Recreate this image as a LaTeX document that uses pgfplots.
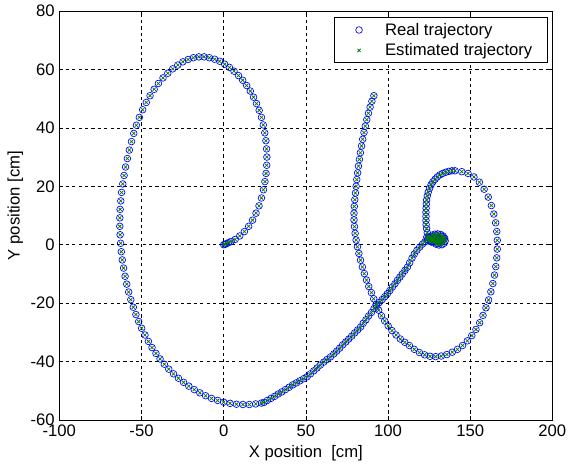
\documentclass[border=0pt]{standalone}
\usepackage{pgfplots}
\usepackage{pgfplotstable}
\pgfplotsset{compat=1.18}
\usepackage{fontspec}
\setmainfont{Liberation Sans}
\definecolor{mblue}{rgb}{0,0,1}
\definecolor{mgreen}{rgb}{0,0.5,0}
\pgfplotsset{mylegimg/.style={legend image code/.code={\path[draw=none,fill=none] (0pt,-3pt) rectangle (27pt,3pt); \draw[mark repeat=2,mark phase=2] plot coordinates {(0pt,0pt)(9.5pt,0pt)(27pt,0pt)};}}}
\pgfplotstableread{
x y
0 0
0.8 0.1
1.8 0.4
3 0.7
4.5 1.1
7 1.8
9.8 3
12.6 4.5
15.2 6.3
17.6 8.4
19.7 10.8
21.5 13.3
23 16
24.2 18.8
25.1 21.6
25.8 24.4
26.2 27.2
26.3 30
26.1 32.8
25.7 35.6
25 38.3
24.1 41
23 43.6
21.6 46
20 48.3
18.2 50.5
16.2 52.6
14 54.5
11.6 56.3
9 57.9
6.3 59.4
3.5 60.7
0.6 61.8
-2.4 62.8
-5.5 63.5
-8.7 64
-11.9 64.3
-15.1 64.3
-18.4 64
-21.6 63.4
-24.8 62.6
-27.9 61.5
-31 60.2
-34 58.7
-36.9 57.1
-39.7 55.2
-42.3 53.2
-44.8 51
-47.1 48.7
-49.3 46.2
-51.3 43.6
-53.1 40.9
-54.7 38.1
-56.1 35.3
-57.4 32.4
-58.6 29.5
-59.7 26.6
-60.6 23.7
-61.4 20.8
-62.1 17.9
-62.6 15
-63 12.1
-63.2 9.2
-63.2 6.3
-63 3.4
-62.7 0.5
-62.3 -2.4
-61.7 -5.2
-60.9 -8
-60 -10.8
-59 -13.5
-57.8 -16.2
-56.5 -18.8
-55 -21.4
-53.4 -23.9
-51.7 -26.3
-49.9 -28.6
-47.9 -30.9
-45.8 -33.1
-43.6 -35.2
-41.2 -37.2
-38.7 -39.1
-36.1 -40.9
-33.4 -42.6
-30.5 -44.2
-27.5 -45.7
-24.4 -47.1
-21.2 -48.4
-17.9 -49.6
-14.5 -50.7
-11 -51.7
-7.4 -52.6
-3.7 -53.3
0 -53.9
3.9 -54.3
7.8 -54.6
11.7 -54.7
15.6 -54.7
19.5 -54.5
23 -54.2
24.5 -54
26.6 -53.3
28.8 -52.6
31 -51.9
33.2 -51.1
35.4 -50.4
37.6 -49.6
39.8 -48.8
42 -48
44.2 -47.3
46.4 -46.6
48.6 -45.9
50.8 -45.2
52.8 -44.2
54.8 -43.2
56.8 -42.2
58.8 -41.2
60.9 -40.2
62.9 -39.3
65 -38.4
67 -37.4
68.8 -36.4
70.6 -35.4
72.4 -34.3
74.3 -33.3
76.1 -32.3
77.9 -31.3
79.7 -30.2
81.5 -29.2
83.3 -28.2
84.9 -26.9
86.6 -25.7
88.2 -24.4
89.9 -23.2
91.5 -21.9
93.1 -20.9
94.7 -19.8
96.4 -18.8
98 -17.8
99.6 -16.8
101.1 -15.7
102.7 -14.5
104.2 -13.4
105.7 -12.2
107.2 -11.1
108.7 -10
110.3 -8.8
111.8 -7.7
113.2 -6.2
114.6 -4.6
116 -3.2
117.6 -1.9
119.3 -0.8
121 0.2
122.5 1
124 1.8
125.5 2.6
127 3.3
128.6 3.6
130.3 3.7
132 3.5
133.5 3
134.5 2.2
134.8 1.3
134.2 0.5
132.8 0
131 -0.1
129.2 0.2
127.6 0.9
126.3 1.7
125.4 2.5
127 2.2
128.8 1.5
130.6 1.2
132.4 1.6
133.6 2.3
132.5 2.9
130.5 2.6
128.5 2.4
126.5 2.2
125.8 1.2
127.2 1.8
128 2.9
129.5 3
130 1.9
131.5 2.1
131.8 0.9
133 1.2
133.2 2
129 1
130.2 0.4
127.4 1.4
126.4 0.9
124.8 1.4
123.6 2.6
124.6 2.7
123.9 4.1
123.5 5.5
123.2 6.9
123.1 8.3
123.1 9.7
123.1 11.1
123.2 12.5
123.3 13.9
123.5 15.3
123.9 16.7
124.5 18
125.3 19.3
126.2 20.5
127.3 21.5
128.6 22.4
130 23.2
131.6 23.9
133.3 24.4
135.1 24.8
137 25.1
138.9 25.3
140.8 25.3
144.9 25
148.7 24.4
152.3 23.2
155.6 21.4
158.5 19
161 16.3
162.9 13.4
164.4 10.5
165.5 7.5
166.2 4.5
166.5 1.5
166.5 -1.5
166.2 -4.5
165.6 -7.5
164.8 -10.4
163.8 -13.3
162.6 -16.1
161.2 -18.9
159.6 -21.6
157.8 -24.2
155.8 -26.7
153.5 -29
151 -31.1
148.3 -32.9
145.4 -34.5
142.3 -35.8
139.1 -36.8
135.8 -37.6
132.4 -38.1
129 -38.3
125.6 -38.2
122.3 -37.7
119.1 -36.9
116 -35.8
113 -34.5
110.2 -33.4
107.5 -32.3
104.9 -30.9
102.4 -29.4
100.1 -27.8
98 -26.1
96 -24.3
94.3 -22.4
92.7 -20.5
91.3 -18.5
89.9 -16.4
88.3 -14.3
86.9 -12.1
85.6 -9.9
84.4 -7.6
83.3 -5.3
82.3 -3
81.4 -0.7
80.6 1.6
80 3.9
79.6 6.2
79.3 8.5
79.3 10.8
79.5 13.1
79.8 15.4
80.2 17.7
80.6 20
81 22.3
81.5 24.6
82 26.9
82.6 29.2
83.2 31.5
83.9 33.8
84.6 36.1
85.4 38.4
86.2 40.6
87.1 42.8
88.1 45
89.1 47.1
90.2 49.1
91.4 51
}\traj
\begin{document}
\begin{tikzpicture}
\begin{axis}[
  scale only axis,
  width=369.75pt, height=306.75pt,
  at={(0,0)}, anchor=south west,
  xmin=-100, xmax=200, ymin=-60, ymax=80,
  xtick={-100,-50,...,200}, ytick={-60,-40,...,80},
  tick align=inside,
  major tick length=3pt,
  xmajorgrids, ymajorgrids,
  major grid style={black, line width=0.45pt, dash pattern=on 2.4pt off 2.4pt},
  axis line style={black, line width=0.5pt},
  tick style={black, line width=0.5pt},
  font=\fontsize{12.5}{14.5}\selectfont,
  /pgf/number format/assume math mode=true,
  /pgf/number format/1000 sep={},
  xlabel={X position\ \ [cm]},
  ylabel={Y position [cm]},
  every axis x label/.style={at={(axis description cs:0.5,0)}, anchor=center, yshift=-25pt},
  every axis y label/.style={at={(axis description cs:0,0.5)}, anchor=center, rotate=90, yshift=33pt, xshift=7.5pt},
  legend style={at={(rel axis cs:1,1)}, anchor=north east, xshift=-3.75pt, yshift=-4.7pt,
    draw=black, line width=0.5pt, inner xsep=9pt, inner ysep=2pt,
    font=\fontsize{12.5}{14.5}\selectfont, row sep=0.8pt},
  legend cell align=left,
]
\addplot[only marks, mark=o, mark size=2.5pt, color=mblue, mark options={line width=0.5pt}, mylegimg] table {\traj};
\addlegendentry{Real trajectory}
\addplot[only marks, mark=x, mark size=1.7pt, color=mgreen, mark options={line width=0.55pt}, mylegimg] table {\traj};
\addlegendentry{Estimated trajectory}
\end{axis}
\pgfresetboundingbox
\useasboundingbox (-44.5pt,-34.5pt) rectangle (381.5pt,315pt);
\end{tikzpicture}
\end{document}
